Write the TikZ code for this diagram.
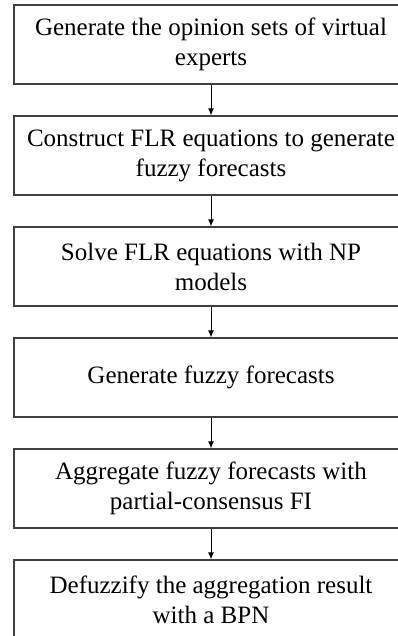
\documentclass[tikz,border=0pt]{standalone}
\usepackage{fontspec}
\setmainfont{Liberation Serif}
\usetikzlibrary{arrows.meta}

\begin{document}
\begin{tikzpicture}[x=1pt, y=1pt,
		stepbox/.style={draw=black!75, line width=1.3pt, minimum width=394pt, minimum height=79pt, align=center, inner sep=0pt, font=\fontsize{25}{30}\selectfont},
		flow/.style={-{Latex[length=7pt, width=6pt]}, line width=0.9pt}]
		\useasboundingbox (0,0) rectangle (398,-636);
		\clip (0,0) rectangle (398,-636);

		% Steps of the procedure
		\node[stepbox] (s1) at (211, -44.5) {Generate the opinion sets of virtual\\experts};
		\node[stepbox] (s2) at (211, -155.5) {Construct FLR equations to generate\\fuzzy forecasts};
		\node[stepbox] (s3) at (211, -266.5) {Solve FLR equations with NP\\models};
		\node[stepbox] (s4) at (211, -377.5) {Generate fuzzy forecasts};
		\node[stepbox] (s5) at (211, -488.5) {Aggregate fuzzy forecasts with\\partial-consensus FI};
		\node[stepbox] (s6) at (211, -599.5) {Defuzzify the aggregation result\\with a BPN};

		% Arrows between steps
		\foreach \a/\b in {s1/s2, s2/s3, s3/s4, s4/s5, s5/s6} {
				\draw[flow] (\a.south) -- (\b.north);
			}
	\end{tikzpicture}
\end{document}
